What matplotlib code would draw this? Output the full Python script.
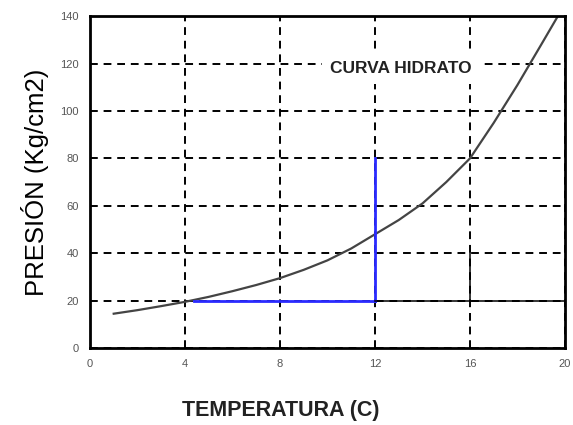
import numpy as np
import matplotlib
matplotlib.use('Agg')
import matplotlib.pyplot as plt

# Hydrate curve
temp = [1, 2, 3, 4, 5, 6, 7, 8, 9, 10, 11, 12, 13, 14, 15, 16, 17, 18, 19, 19.7]
pres = [14.5, 16, 17.7, 19.5, 21.6, 24, 26.6, 29.5, 33, 37, 42, 48, 54, 61, 70, 80, 95, 111, 128, 140]

# blue operating lines
blue_h_x = [4.4, 12]
blue_h_y = [20, 20]
blue_v_x = [12, 12]
blue_v_y = [20, 80]

# black line at 20
black_h_x = [12, 20]
black_h_y = [20, 20]

x_ticks = [0, 4, 8, 12, 16, 20]
y_ticks = [0, 20, 40, 60, 80, 100, 120, 140]

plt.rcParams['font.family'] = ['Liberation Sans', 'DejaVu Sans']

fig = plt.figure(figsize=(5.73, 4.25), dpi=100)
ax = fig.add_axes([0.157, 0.181, 0.829, 0.781])

ax.set_xlim(0, 20)
ax.set_ylim(0, 140)
ax.set_xticks(x_ticks)
ax.set_yticks(y_ticks)
ax.tick_params(length=0, labelsize=8, colors='#555555', pad=8)
ax.grid(color='black', linestyle=(0, (4, 3)), linewidth=1.4)

ax.plot(temp, pres, color='#444444', linewidth=1.6)
ax.plot(blue_h_x, blue_h_y, color='#2a2aff', linewidth=2)
ax.plot(blue_v_x, blue_v_y, color='#2a2aff', linewidth=2)
ax.plot(black_h_x, black_h_y, color='black', linewidth=1.1)
ax.plot([16, 16], [20, 40], color='black', linewidth=1.1)

for s in ax.spines.values():
    s.set_linewidth(2)

ax.text(13.1, 118, 'CURVA HIDRATO', fontsize=12.5, ha='center', va='center',
        color='#222222', fontweight='bold', zorder=5,
        bbox=dict(facecolor='white', edgecolor='none', pad=6))

ax.set_ylabel('PRESIÓN (Kg/cm2)', fontsize=18.5, labelpad=8)
fig.text(0.49, 0.033, 'TEMPERATURA (C)', fontsize=15.5, fontweight='bold',
         ha='center', va='center', color='#222222')

fig.savefig('out.png', dpi=100)
